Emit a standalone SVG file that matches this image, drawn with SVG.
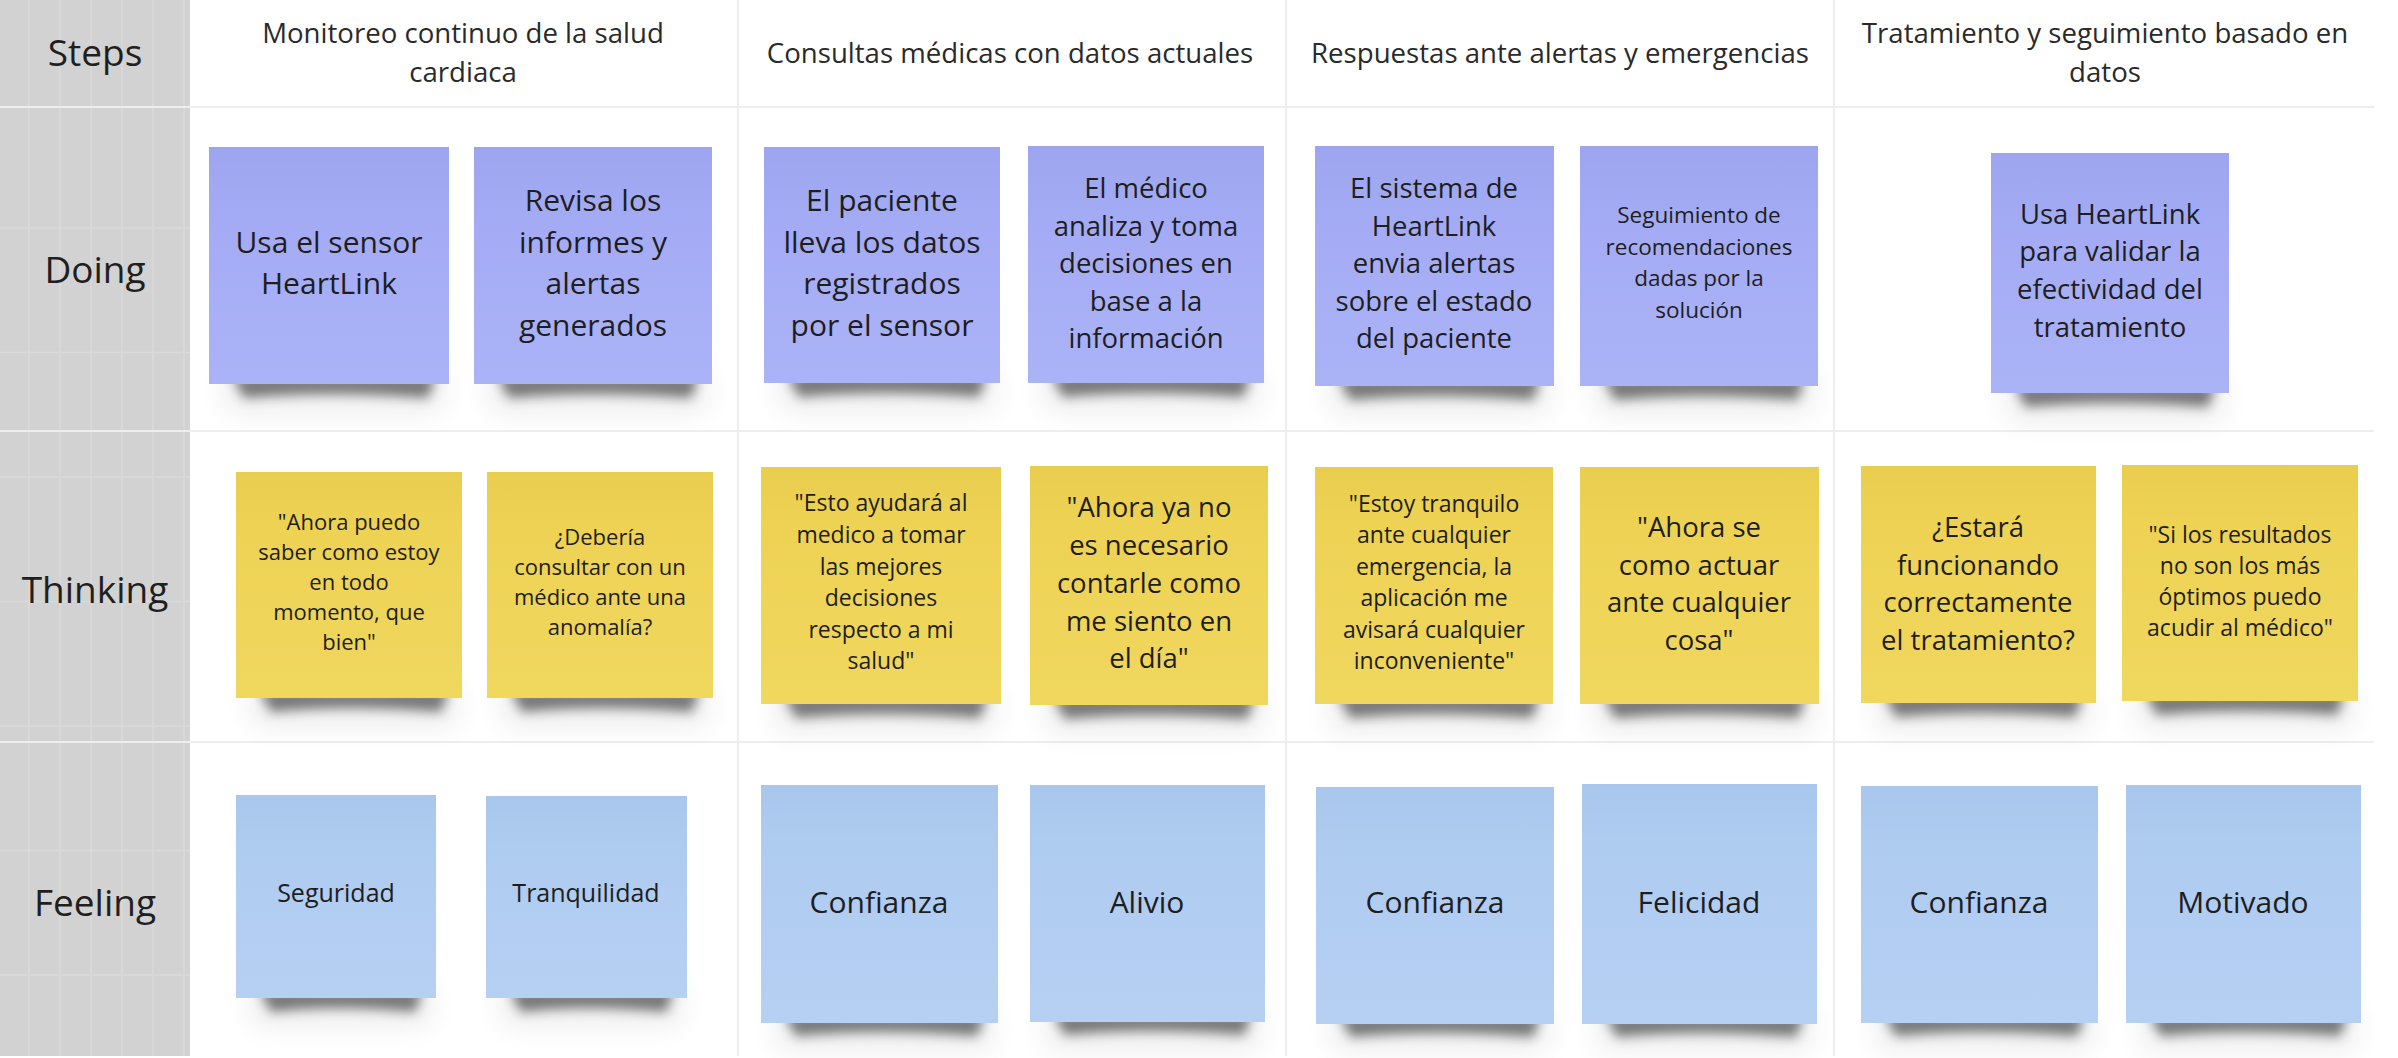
<svg xmlns="http://www.w3.org/2000/svg" width="2398" height="1058" viewBox="0 0 2398 1058">
<defs>
<style>
.lbl{font-family:"Open Sans","Noto Sans","Liberation Sans",sans-serif;fill:#1f1f1f;text-anchor:middle;}
.rowlbl{font-size:37px;}
.hdr{font-size:27.6px;fill:#2a2a2a;}
.t{font-family:"Open Sans","Noto Sans","Liberation Sans",sans-serif;fill:#1e1e1e;text-anchor:middle;}
.purple{fill:url(#gP);}
.yellow{fill:url(#gY);}
.blue{fill:url(#gB);}
.shadow{fill:#000;opacity:0.5;filter:url(#blur);}
.halo{fill:#000;opacity:0.07;filter:url(#blur2);}
.div{stroke:#eeeeee;stroke-width:2;}
.gl{stroke:#dadada;stroke-width:1.5;}
</style>
<linearGradient id="gP" x1="0" y1="0" x2="0" y2="1"><stop offset="0" stop-color="#9ea5ef"/><stop offset="0.25" stop-color="#a3aaf4"/><stop offset="1" stop-color="#abb3f7"/></linearGradient>
<linearGradient id="gY" x1="0" y1="0" x2="0" y2="1"><stop offset="0" stop-color="#e9cd4f"/><stop offset="0.25" stop-color="#edd254"/><stop offset="1" stop-color="#f0d75e"/></linearGradient>
<linearGradient id="gB" x1="0" y1="0" x2="0" y2="1"><stop offset="0" stop-color="#a9c6ec"/><stop offset="0.25" stop-color="#aecbf0"/><stop offset="1" stop-color="#b6d0f3"/></linearGradient>
<filter id="blur" x="-20%" y="-100%" width="140%" height="300%"><feGaussianBlur stdDeviation="6"/></filter>
<filter id="blur2" x="-20%" y="-100%" width="140%" height="300%"><feGaussianBlur stdDeviation="14"/></filter>
</defs>
<rect x="0" y="0" width="2398" height="1058" fill="#ffffff"/>
<g id="grid">
<rect x="0" y="0" width="190" height="1056" fill="#d2d2d2"/>
<g class="gl">
<line x1="29" y1="0" x2="29" y2="1056"/><line x1="60" y1="0" x2="60" y2="1056"/><line x1="91" y1="0" x2="91" y2="1056"/><line x1="122" y1="0" x2="122" y2="1056"/><line x1="153" y1="0" x2="153" y2="1056"/><line x1="184" y1="0" x2="184" y2="1056"/>
<line x1="0" y1="228" x2="190" y2="228"/><line x1="0" y1="352.5" x2="190" y2="352.5"/><line x1="0" y1="477" x2="190" y2="477"/><line x1="0" y1="601.5" x2="190" y2="601.5"/><line x1="0" y1="726" x2="190" y2="726"/><line x1="0" y1="850.5" x2="190" y2="850.5"/><line x1="0" y1="975" x2="190" y2="975"/>
</g>
<g class="div">
<line x1="0" y1="107" x2="2374" y2="107"/><line x1="0" y1="431" x2="2374" y2="431"/><line x1="0" y1="742" x2="2374" y2="742"/>
<line x1="738" y1="0" x2="738" y2="1056"/><line x1="1286" y1="0" x2="1286" y2="1056"/><line x1="1834" y1="0" x2="1834" y2="1056"/>
</g>
</g>
<g id="row-labels" class="lbl rowlbl">
<text id="lbl-steps" x="95" y="66">Steps</text>
<text id="lbl-doing" x="95" y="283">Doing</text>
<text id="lbl-thinking" x="95" y="603">Thinking</text>
<text id="lbl-feeling" x="95" y="916">Feeling</text>
</g>
<g id="headers" class="lbl hdr">
<text id="h1" x="463"><tspan x="463" y="43">Monitoreo continuo de la salud</tspan><tspan x="463" y="82">cardiaca</tspan></text>
<text id="h2" x="1010" y="63">Consultas médicas con datos actuales</text>
<text id="h3" x="1560" y="63">Respuestas ante alertas y emergencias</text>
<text id="h4" x="2105"><tspan x="2105" y="43">Tratamiento y seguimiento basado en</tspan><tspan x="2105" y="82">datos</tspan></text>
</g>

<!-- Doing -->
<g id="d1"><path class="halo" d="M224,370 H444 V412 H224 Z"/><path class="shadow" d="M232,376 H436 L428,398 Q330,390 244,398 Z"/><rect class="purple" x="209" y="147" width="240" height="237"/>
<text class="t" font-size="30" x="329"><tspan x="329" y="253">Usa el sensor</tspan><tspan x="329" y="294">HeartLink</tspan></text></g>
<g id="d2"><path class="halo" d="M489,370 H707 V412 H489 Z"/><path class="shadow" d="M497,376 H699 L691,398 Q593,390 509,398 Z"/><rect class="purple" x="474" y="147" width="238" height="237"/>
<text class="t" font-size="30" x="593"><tspan x="593" y="211">Revisa los</tspan><tspan x="593" y="253">informes y</tspan><tspan x="593" y="294">alertas</tspan><tspan x="593" y="336">generados</tspan></text></g>
<g id="d3"><path class="halo" d="M779,369 H995 V411 H779 Z"/><path class="shadow" d="M787,375 H987 L979,397 Q882,389 799,397 Z"/><rect class="purple" x="764" y="147" width="236" height="236"/>
<text class="t" font-size="30" x="882"><tspan x="882" y="211">El paciente</tspan><tspan x="882" y="253">lleva los datos</tspan><tspan x="882" y="294">registrados</tspan><tspan x="882" y="336">por el sensor</tspan></text></g>
<g id="d4"><path class="halo" d="M1043,369 H1259 V411 H1043 Z"/><path class="shadow" d="M1051,375 H1251 L1243,397 Q1146,389 1063,397 Z"/><rect class="purple" x="1028" y="146" width="236" height="237"/>
<text class="t" font-size="27.5" x="1146"><tspan x="1146" y="198">El médico</tspan><tspan x="1146" y="236">analiza y toma</tspan><tspan x="1146" y="273">decisiones en</tspan><tspan x="1146" y="311">base a la</tspan><tspan x="1146" y="348">información</tspan></text></g>
<g id="d5"><path class="halo" d="M1330,372 H1549 V414 H1330 Z"/><path class="shadow" d="M1338,378 H1541 L1533,400 Q1434,392 1350,400 Z"/><rect class="purple" x="1315" y="146" width="239" height="240"/>
<text class="t" font-size="27.5" x="1434"><tspan x="1434" y="198">El sistema de</tspan><tspan x="1434" y="236">HeartLink</tspan><tspan x="1434" y="273">envia alertas</tspan><tspan x="1434" y="311">sobre el estado</tspan><tspan x="1434" y="348">del paciente</tspan></text></g>
<g id="d6"><path class="halo" d="M1595,372 H1813 V414 H1595 Z"/><path class="shadow" d="M1603,378 H1805 L1797,400 Q1699,392 1615,400 Z"/><rect class="purple" x="1580" y="146" width="238" height="240"/>
<text class="t" font-size="22.5" x="1699"><tspan x="1699" y="223">Seguimiento de</tspan><tspan x="1699" y="255">recomendaciones</tspan><tspan x="1699" y="286">dadas por la</tspan><tspan x="1699" y="318">solución</tspan></text></g>
<g id="d7"><path class="halo" d="M2006,379 H2224 V421 H2006 Z"/><path class="shadow" d="M2014,385 H2216 L2208,407 Q2110,399 2026,407 Z"/><rect class="purple" x="1991" y="153" width="238" height="240"/>
<text class="t" font-size="27.5" x="2110"><tspan x="2110" y="224">Usa HeartLink</tspan><tspan x="2110" y="261">para validar la</tspan><tspan x="2110" y="299">efectividad del</tspan><tspan x="2110" y="337">tratamiento</tspan></text></g>

<!-- Thinking -->
<g id="t1"><path class="halo" d="M251,684 H457 V726 H251 Z"/><path class="shadow" d="M259,690 H449 L441,712 Q349,704 271,712 Z"/><rect class="yellow" x="236" y="472" width="226" height="226"/>
<text class="t" font-size="22" x="349"><tspan x="349" y="530">"Ahora puedo</tspan><tspan x="349" y="560">saber como estoy</tspan><tspan x="349" y="590">en todo</tspan><tspan x="349" y="620">momento, que</tspan><tspan x="349" y="650">bien"</tspan></text></g>
<g id="t2"><path class="halo" d="M502,684 H708 V726 H502 Z"/><path class="shadow" d="M510,690 H700 L692,712 Q600,704 522,712 Z"/><rect class="yellow" x="487" y="472" width="226" height="226"/>
<text class="t" font-size="22" x="600"><tspan x="600" y="545">¿Debería</tspan><tspan x="600" y="575">consultar con un</tspan><tspan x="600" y="605">médico ante una</tspan><tspan x="600" y="635">anomalía?</tspan></text></g>
<g id="t3"><path class="halo" d="M776,690 H996 V732 H776 Z"/><path class="shadow" d="M784,696 H988 L980,718 Q881,710 796,718 Z"/><rect class="yellow" x="761" y="467" width="240" height="237"/>
<text class="t" font-size="23" x="881"><tspan x="881" y="511">"Esto ayudará al</tspan><tspan x="881" y="543">medico a tomar</tspan><tspan x="881" y="575">las mejores</tspan><tspan x="881" y="606">decisiones</tspan><tspan x="881" y="638">respecto a mi</tspan><tspan x="881" y="669">salud"</tspan></text></g>
<g id="t4"><path class="halo" d="M1045,691 H1263 V733 H1045 Z"/><path class="shadow" d="M1053,697 H1255 L1247,719 Q1149,711 1065,719 Z"/><rect class="yellow" x="1030" y="466" width="238" height="239"/>
<text class="t" font-size="27.5" x="1149"><tspan x="1149" y="517">"Ahora ya no</tspan><tspan x="1149" y="555">es necesario</tspan><tspan x="1149" y="593">contarle como</tspan><tspan x="1149" y="631">me siento en</tspan><tspan x="1149" y="668">el día"</tspan></text></g>
<g id="t5"><path class="halo" d="M1330,690 H1548 V732 H1330 Z"/><path class="shadow" d="M1338,696 H1540 L1532,718 Q1434,710 1350,718 Z"/><rect class="yellow" x="1315" y="467" width="238" height="237"/>
<text class="t" font-size="23" x="1434"><tspan x="1434" y="512">"Estoy tranquilo</tspan><tspan x="1434" y="543">ante cualquier</tspan><tspan x="1434" y="575">emergencia, la</tspan><tspan x="1434" y="606">aplicación me</tspan><tspan x="1434" y="638">avisará cualquier</tspan><tspan x="1434" y="669">inconveniente"</tspan></text></g>
<g id="t6"><path class="halo" d="M1595,690 H1814 V732 H1595 Z"/><path class="shadow" d="M1603,696 H1806 L1798,718 Q1699,710 1615,718 Z"/><rect class="yellow" x="1580" y="467" width="239" height="237"/>
<text class="t" font-size="27.5" x="1699"><tspan x="1699" y="537">"Ahora se</tspan><tspan x="1699" y="575">como actuar</tspan><tspan x="1699" y="612">ante cualquier</tspan><tspan x="1699" y="650">cosa"</tspan></text></g>
<g id="t7"><path class="halo" d="M1876,689 H2091 V731 H1876 Z"/><path class="shadow" d="M1884,695 H2083 L2075,717 Q1978,709 1896,717 Z"/><rect class="yellow" x="1861" y="466" width="235" height="237"/>
<text class="t" font-size="27.5" x="1978"><tspan x="1978" y="537">¿Estará</tspan><tspan x="1978" y="575">funcionando</tspan><tspan x="1978" y="612">correctamente</tspan><tspan x="1978" y="650">el tratamiento?</tspan></text></g>
<g id="t8"><path class="halo" d="M2137,687 H2353 V729 H2137 Z"/><path class="shadow" d="M2145,693 H2345 L2337,715 Q2240,707 2157,715 Z"/><rect class="yellow" x="2122" y="465" width="236" height="236"/>
<text class="t" font-size="23" x="2240"><tspan x="2240" y="543">"Si los resultados</tspan><tspan x="2240" y="574">no son los más</tspan><tspan x="2240" y="605">óptimos puedo</tspan><tspan x="2240" y="636">acudir al médico"</tspan></text></g>

<!-- Feeling -->
<g id="f1"><path class="halo" d="M251,984 H431 V1026 H251 Z"/><path class="shadow" d="M259,990 H423 L415,1012 Q336,1004 271,1012 Z"/><rect class="blue" x="236" y="795" width="200" height="203"/>
<text class="t" font-size="25" x="336" y="902">Seguridad</text></g>
<g id="f2"><path class="halo" d="M501,984 H682 V1026 H501 Z"/><path class="shadow" d="M509,990 H674 L666,1012 Q586,1004 521,1012 Z"/><rect class="blue" x="486" y="796" width="201" height="202"/>
<text class="t" font-size="25" x="586" y="902">Tranquilidad</text></g>
<g id="f3"><path class="halo" d="M776,1009 H993 V1050 H776 Z"/><path class="shadow" d="M784,1015 H985 L977,1036 Q879,1028 796,1036 Z"/><rect class="blue" x="761" y="785" width="237" height="238"/>
<text class="t" font-size="30" x="879" y="913">Confianza</text></g>
<g id="f4"><path class="halo" d="M1045,1008 H1260 V1050 H1045 Z"/><path class="shadow" d="M1053,1014 H1252 L1244,1035 Q1147,1027 1065,1035 Z"/><rect class="blue" x="1030" y="785" width="235" height="237"/>
<text class="t" font-size="30" x="1147" y="913">Alivio</text></g>
<g id="f5"><path class="halo" d="M1331,1010 H1549 V1050 H1331 Z"/><path class="shadow" d="M1339,1016 H1541 L1533,1037 Q1435,1029 1351,1037 Z"/><rect class="blue" x="1316" y="787" width="238" height="237"/>
<text class="t" font-size="30" x="1435" y="913">Confianza</text></g>
<g id="f6"><path class="halo" d="M1597,1010 H1812 V1050 H1597 Z"/><path class="shadow" d="M1605,1016 H1804 L1796,1037 Q1699,1029 1617,1037 Z"/><rect class="blue" x="1582" y="784" width="235" height="240"/>
<text class="t" font-size="30" x="1699" y="913">Felicidad</text></g>
<g id="f7"><path class="halo" d="M1876,1009 H2093 V1050 H1876 Z"/><path class="shadow" d="M1884,1015 H2085 L2077,1036 Q1979,1028 1896,1036 Z"/><rect class="blue" x="1861" y="786" width="237" height="237"/>
<text class="t" font-size="30" x="1979" y="913">Confianza</text></g>
<g id="f8"><path class="halo" d="M2141,1009 H2356 V1050 H2141 Z"/><path class="shadow" d="M2149,1015 H2348 L2340,1036 Q2243,1028 2161,1036 Z"/><rect class="blue" x="2126" y="785" width="235" height="238"/>
<text class="t" font-size="30" x="2243" y="913">Motivado</text></g>
</svg>
